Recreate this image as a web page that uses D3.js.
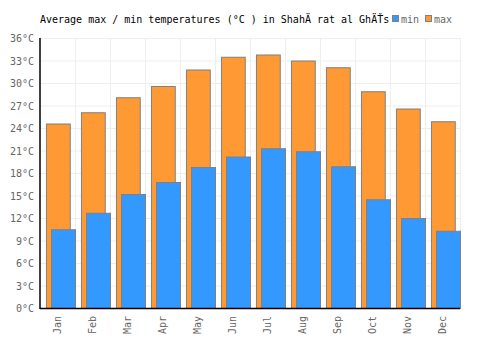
<!DOCTYPE html>
<html lang="en">
<head>
    <meta charset="UTF-8">
    <title>Average max / min temperatures</title>
    <script src="https://d3js.org/d3.v7.min.js"></script>
    <style>
        body { margin: 0; background: #fff; }
        text { font-family: "DejaVu Sans Mono", monospace; }
        .axis-label { font-size: 10px; fill: #666; }
        .bar { stroke: #808080; stroke-width: 1; }
        .bar.min { fill: #3399ff; }
        .bar.max { fill: #ff9933; }
    </style>
</head>
<body>
    <svg width="500" height="350"></svg>
    <script>
        // Data
        const months = ["Jan", "Feb", "Mar", "Apr", "May", "Jun", "Jul", "Aug", "Sep", "Oct", "Nov", "Dec"];
        const maxTemps = [24.6, 26.1, 28.1, 29.6, 31.8, 33.5, 33.8, 33.0, 32.1, 28.9, 26.6, 24.9];
        const minTemps = [10.5, 12.7, 15.2, 16.8, 18.8, 20.2, 21.3, 20.9, 18.9, 14.5, 12.0, 10.3];
        const yTicks = [0, 3, 6, 9, 12, 15, 18, 21, 24, 27, 30, 33, 36];

        const margin = {top: 38, right: 40, bottom: 42, left: 40},
              width = 500 - margin.left - margin.right,
              height = 350 - margin.top - margin.bottom;

        const svg = d3.select("svg");
        const g = svg.append("g")
            .attr("transform", `translate(${margin.left},${margin.top})`);

        const x = d3.scaleBand().domain(months).range([0, width]).padding(0);
        const y = d3.scaleLinear().domain([0, 36]).range([height, 0]);
        const bw = x.bandwidth();

        // grid
        g.append("g").selectAll("line.h")
            .data(yTicks)
            .enter().append("line")
            .attr("x1", 0).attr("x2", width)
            .attr("y1", d => y(d) + 0.5).attr("y2", d => y(d) + 0.5)
            .attr("stroke", "#eeeeee");
        g.append("g").selectAll("line.v")
            .data(months.slice(1).concat(["end"]))
            .enter().append("line")
            .attr("x1", (d, i) => (i + 1) * bw + 0.5).attr("x2", (d, i) => (i + 1) * bw + 0.5)
            .attr("y1", 0).attr("y2", height)
            .attr("stroke", "#eeeeee");

        // max bars (behind)
        g.append("g").selectAll("rect")
            .data(maxTemps)
            .enter().append("rect")
            .attr("class", "bar max")
            .attr("x", (d, i) => x(months[i]) + bw * 0.17 + 0.5)
            .attr("width", bw * 0.68)
            .attr("y", d => y(d) + 0.5)
            .attr("height", d => height - y(d));

        // min bars (front)
        g.append("g").selectAll("rect")
            .data(minTemps)
            .enter().append("rect")
            .attr("class", "bar min")
            .attr("x", (d, i) => x(months[i]) + bw * 0.315 + 0.5)
            .attr("width", bw * 0.685)
            .attr("y", d => y(d) + 0.5)
            .attr("height", d => height - y(d));

        // Y axis
        const yAxis = g.append("g")
            .call(d3.axisLeft(y).tickValues(yTicks).tickFormat(d => d + "°C").tickSize(0).tickPadding(6));
        yAxis.select(".domain").remove();
        yAxis.selectAll("text").attr("class", "axis-label").attr("dy", "0.35em");

        // X axis
        const xAxis = g.append("g")
            .attr("transform", `translate(0,${height})`)
            .call(d3.axisBottom(x).tickSize(0));
        xAxis.select(".domain").remove();
        xAxis.selectAll("text")
            .attr("class", "axis-label")
            .attr("transform", "rotate(-90)")
            .attr("text-anchor", "end")
            .attr("x", -8)
            .attr("y", 0)
            .attr("dy", "0.35em");

        // axis lines
        g.append("line").attr("x1", 0).attr("x2", 0).attr("y1", 0).attr("y2", height + 1)
            .attr("stroke", "#000").attr("stroke-width", 1.5);
        g.append("line").attr("x1", 0).attr("x2", width).attr("y1", height + 0.5).attr("y2", height + 0.5)
            .attr("stroke", "#000").attr("stroke-width", 1.5);

        // title
        svg.append("text")
            .attr("x", 40).attr("y", 23)
            .attr("font-size", "10px")
            .attr("fill", "#000")
            .text("Average max / min temperatures (°C ) in ShahÄ rat al GhÄŤs");

        // legend
        const legend = [{key: "min", color: "#3399ff", x: 392}, {key: "max", color: "#ff9933", x: 425}];
        const lg = svg.append("g").selectAll("g").data(legend).enter().append("g");
        lg.append("rect")
            .attr("x", d => d.x + 0.5).attr("y", 15.5)
            .attr("width", 6).attr("height", 6)
            .attr("fill", d => d.color).attr("stroke", "#808080");
        lg.append("text")
            .attr("x", d => d.x + 9).attr("y", 23)
            .attr("font-size", "10px").attr("fill", "#666")
            .text(d => d.key);
    </script>
</body>
</html>
